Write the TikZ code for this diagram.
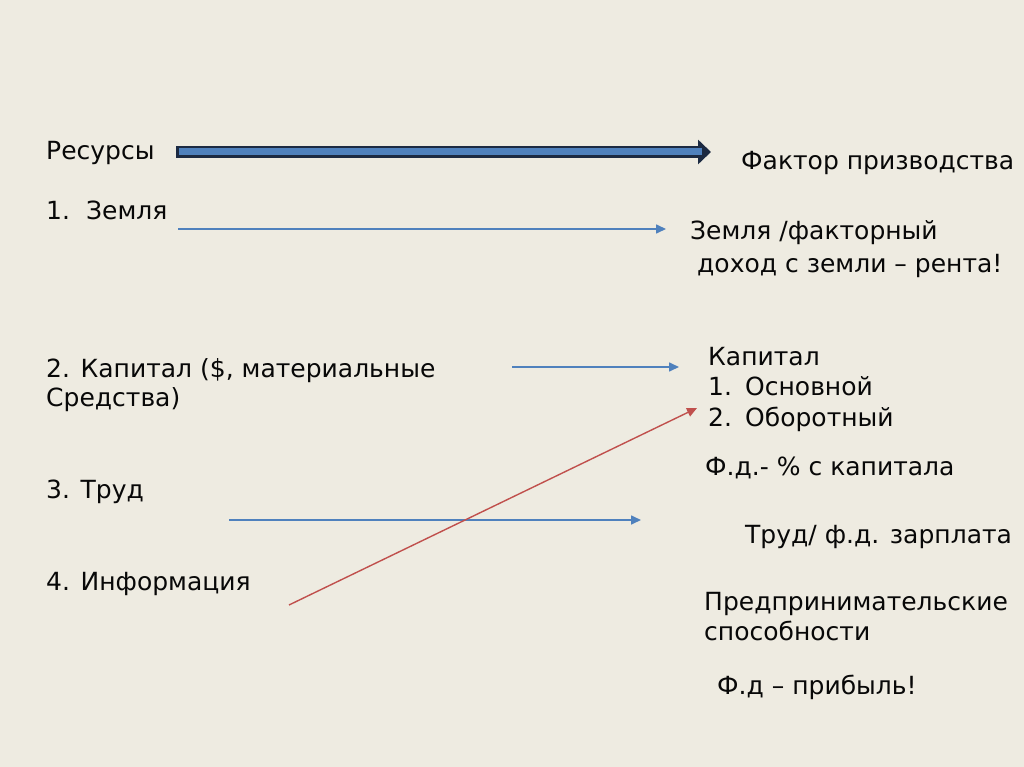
\documentclass[tikz,border=0pt]{standalone}
\usepackage{fontspec}
\setmainfont{DejaVu Sans}
\usetikzlibrary{arrows.meta}
\definecolor{slidebg}{RGB}{238,235,225}
\definecolor{cblue}{RGB}{79,129,189}
\definecolor{cnavy}{RGB}{28,42,66}
\definecolor{cred}{RGB}{192,80,77}
\definecolor{ctext}{RGB}{8,8,8}
\tikzset{slide/.style={x=1pt,y=-1pt,font=\fontsize{25}{30}\selectfont,text=ctext}}
\tikzset{txt/.style={anchor=base west,inner sep=0pt},
         flow/.style={cblue,line width=1.6pt,-{Triangle[length=10pt,width=9pt]}},
         back/.style={cred,line width=1.4pt,-{Triangle[length=10pt,width=9pt]}},
         bigout/.style={cnavy,line width=12pt,-{Triangle[length=13pt,width=24pt]}},
         bigin/.style={cblue,line width=7pt,shorten >=9pt,shorten <=3pt}}

\begin{document}
\begin{tikzpicture}[slide]
    \fill[slidebg] (0,0) rectangle (1024,767);
    \useasboundingbox (0,0) rectangle (1024,767);
    % left column: resources
    \node[txt] (res)   at (46,160) {Ресурсы};
    \node[txt] (land)  at (46,220) {\makebox[40pt][l]{1.}Земля};
    \node[txt] (cap)   at (46,377) {2. Капитал (\$, материальные};
    \node[txt] (cap2)  at (46,406) {Средства)};
    \node[txt] (lab)   at (46,498) {3. Труд};
    \node[txt] (info)  at (46,590) {4. Информация};
    % right column: factors of production
    \node[txt] (fact)  at (741,170) {Фактор призводства};
    \node[txt] (landf) at (690,240) {Земля /факторный};
    \node[txt] (landr) at (697,272) {доход с земли – рента!};
    \node[txt] (capf)  at (708,365) {Капитал};
    \node[txt] (capf1) at (708,395) {\makebox[37pt][l]{1.}Основной};
    \node[txt] (capf2) at (708,426) {\makebox[37pt][l]{2.}Оборотный};
    \node[txt] (capr)  at (705,475) {Ф.д.- \% с капитала};
    \node[txt] (labf)  at (745,543) {Труд/ ф.д. зарплата};
    \node[txt] (ent)   at (704,610) {Предпринимательские};
    \node[txt] (ent2)  at (704,640) {способности};
    \node[txt] (entr)  at (717,694) {Ф.д – прибыль!};
    % arrow ends
    \coordinate (res-a)  at (176,152);
    \coordinate (res-b)  at (711,152);
    \coordinate (land-a) at (178,229);
    \coordinate (land-b) at (666,229);
    \coordinate (cap-a)  at (512,367);
    \coordinate (cap-b)  at (679,367);
    \coordinate (lab-a)  at (229,520);
    \coordinate (lab-b)  at (641,520);
    \coordinate (info-a) at (289,605);
    \coordinate (info-b) at (697,408);
    \draw[bigout] (res-a) -- (res-b);
    \draw[bigin]  (res-a) -- (res-b);
    \draw[flow] (land-a) -- (land-b);
    \draw[flow] (cap-a) -- (cap-b);
    \draw[flow] (lab-a) -- (lab-b);
    \draw[back] (info-a) -- (info-b);
\end{tikzpicture}
\end{document}
